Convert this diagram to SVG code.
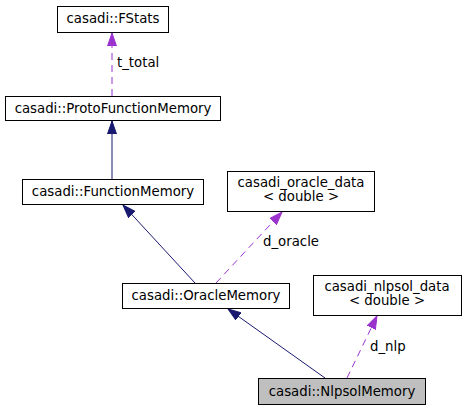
<svg xmlns="http://www.w3.org/2000/svg" width="466" height="411" viewBox="0 0 466 411">
<style>
.box{fill:#ffffff;stroke:#000000;stroke-width:1}
.cur{fill:#bfbfbf;stroke:#000000;stroke-width:1}
text{font-family:"DejaVu Sans",sans-serif;font-size:13.3px;fill:#000000}
.c{text-anchor:middle}
.inh{stroke:#191970;stroke-width:1;fill:none}
.use{stroke:#9a32cd;stroke-width:1;fill:none;stroke-dasharray:7,5}
</style>
<defs>
<marker id="an" markerUnits="userSpaceOnUse" markerWidth="14" markerHeight="10" refX="13" refY="5" orient="auto" viewBox="0 0 14 10">
<path d="M0,0.5 L13,5 L0,9.5 Z" fill="#191970" stroke="#191970"/>
</marker>
<marker id="ap" markerUnits="userSpaceOnUse" markerWidth="14" markerHeight="10" refX="13" refY="5" orient="auto" viewBox="0 0 14 10">
<path d="M0,0.5 L13,5 L0,9.5 Z" fill="#9a32cd" stroke="#9a32cd"/>
</marker>
</defs>
<g id="connectors">
<line class="use" x1="112" y1="96" x2="112" y2="33" marker-end="url(#ap)"/>
<text x="117" y="67">t_total</text>
<line class="inh" x1="112" y1="179" x2="112" y2="121" marker-end="url(#an)"/>
<line class="inh" x1="195" y1="283" x2="123" y2="205" marker-end="url(#an)"/>
<line class="use" x1="216" y1="283" x2="282" y2="212" marker-end="url(#ap)"/>
<text x="263" y="246">d_oracle</text>
<line class="inh" x1="325" y1="378" x2="228" y2="309" marker-end="url(#an)"/>
<line class="use" x1="347" y1="378" x2="377" y2="316" marker-end="url(#ap)"/>
<text x="370" y="351">d_nlp</text>
</g>
<g id="node-fstats">
<rect class="box" x="57.5" y="6.5" width="111" height="26"/>
<text class="c" x="113" y="23">casadi::FStats</text>
</g>
<g id="node-protofunctionmemory">
<rect class="box" x="5.5" y="96.5" width="215" height="24"/>
<text class="c" x="113" y="113">casadi::ProtoFunctionMemory</text>
</g>
<g id="node-functionmemory">
<rect class="box" x="22.5" y="179.5" width="181" height="25"/>
<text class="c" x="113" y="196">casadi::FunctionMemory</text>
</g>
<g id="node-oracle-data">
<rect class="box" x="227.5" y="171.5" width="147" height="40"/>
<text class="c" x="301" y="187">casadi_oracle_data</text>
<text class="c" x="301" y="201">&lt; double &gt;</text>
</g>
<g id="node-oraclememory">
<rect class="box" x="122.5" y="283.5" width="167" height="25"/>
<text class="c" x="206" y="300">casadi::OracleMemory</text>
</g>
<g id="node-nlpsol-data">
<rect class="box" x="313.5" y="275.5" width="148" height="40"/>
<text class="c" x="387" y="291">casadi_nlpsol_data</text>
<text class="c" x="387" y="305">&lt; double &gt;</text>
</g>
<g id="node-nlpsolmemory">
<rect class="cur" x="258.5" y="378.5" width="167" height="26"/>
<text class="c" x="342" y="396">casadi::NlpsolMemory</text>
</g>
</svg>
